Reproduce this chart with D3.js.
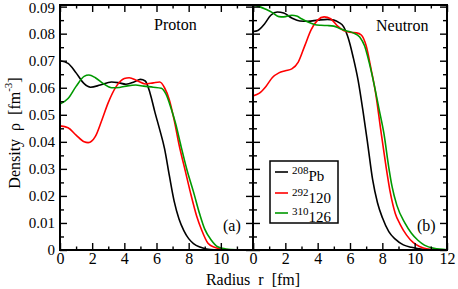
<!DOCTYPE html>
<html><head><meta charset="utf-8">
<script src="https://cdn.jsdelivr.net/npm/d3@7"></script>
<style>
html,body{margin:0;padding:0;background:#fff;}
svg{display:block;font-family:"Liberation Serif","Times New Roman",serif;}
</style></head>
<body>
<svg id="c" width="458" height="289"></svg>
<script>
// ---- data (r in fm, density in fm^-3) ----
const seriesNames = ["208Pb", "292120", "310126"];
const seriesColors = ["#000000", "#ff0000", "#009900"];
const legendSup = ["208", "292", "310"];
const legendMain = ["Pb", "120", "126"];

const protonPb = [[0,0.0700],[0.5,0.0690],[1,0.0655],[1.5,0.0615],[1.9,0.0602],[2.5,0.0610],[3.2,0.0621],[3.6,0.0619],[4.1,0.0613],[4.6,0.0621],[5.0,0.0631],[5.3,0.0625],[5.6,0.0580],[5.9,0.0510],[6.2,0.0445],[6.5,0.0375],[6.8,0.0275],[7.1,0.0180],[7.4,0.0115],[7.7,0.0072],[8.0,0.0042],[8.3,0.0024],[8.7,0.0011],[9.1,0.0004],[9.6,0.0001],[12,0]];
const proton120 = [[0,0.0459],[0.5,0.0452],[1,0.0425],[1.5,0.0400],[1.75,0.0397],[2.2,0.0420],[2.6,0.0480],[3.0,0.0545],[3.5,0.0605],[4.0,0.0634],[4.3,0.0637],[4.8,0.0626],[5.3,0.0614],[5.8,0.0618],[6.2,0.0621],[6.5,0.0600],[6.8,0.0555],[7.1,0.0480],[7.4,0.0390],[7.8,0.0290],[8.1,0.0215],[8.5,0.0125],[8.8,0.0075],[9.2,0.0025],[9.6,0.0010],[10,0.0004],[10.5,0.0001],[12,0]];
const proton126 = [[0,0.0540],[0.5,0.0560],[1,0.0605],[1.5,0.0642],[1.8,0.0647],[2.2,0.0637],[2.7,0.0615],[3.2,0.0600],[3.7,0.0601],[4.2,0.0607],[4.7,0.0610],[5.2,0.0606],[5.8,0.0602],[6.3,0.0598],[6.6,0.0575],[6.9,0.0525],[7.2,0.0465],[7.5,0.0390],[7.9,0.0295],[8.3,0.0215],[8.7,0.0130],[9.0,0.0077],[9.4,0.0037],[9.8,0.0012],[10.3,0.0004],[11,0.0001],[12,0]];

const neutronPb = [[0,0.0808],[0.3,0.0812],[0.7,0.0835],[1.1,0.0868],[1.5,0.0880],[1.9,0.0876],[2.4,0.0858],[2.9,0.0847],[3.4,0.0846],[4.0,0.0850],[4.6,0.0853],[5.0,0.0850],[5.3,0.0842],[5.6,0.0826],[5.9,0.0782],[6.2,0.0712],[6.5,0.0628],[6.8,0.0515],[7.1,0.0390],[7.4,0.0260],[7.7,0.0175],[8.0,0.0120],[8.4,0.0068],[8.8,0.0040],[9.3,0.0019],[9.8,0.0010],[10.5,0.0003],[12,0]];
const neutron120 = [[0,0.0570],[0.4,0.0580],[0.8,0.0605],[1.2,0.0638],[1.6,0.0655],[2.0,0.0663],[2.4,0.0670],[2.8,0.0695],[3.2,0.0755],[3.6,0.0815],[4.0,0.0850],[4.4,0.0862],[4.8,0.0855],[5.2,0.0830],[5.6,0.0812],[6.0,0.0805],[6.4,0.0803],[6.7,0.0795],[7.0,0.0755],[7.3,0.0670],[7.6,0.0575],[7.9,0.0445],[8.2,0.0320],[8.5,0.0210],[8.8,0.0135],[9.1,0.0095],[9.5,0.0055],[9.9,0.0028],[10.3,0.0013],[10.8,0.0004],[11.5,0.0001],[12,0]];
const neutron126 = [[0,0.0905],[0.4,0.0900],[0.8,0.0890],[1.2,0.0878],[1.6,0.0863],[1.9,0.0862],[2.4,0.0868],[2.7,0.0865],[3.0,0.0855],[3.4,0.0843],[3.8,0.0834],[4.2,0.0831],[4.6,0.0830],[5.0,0.0828],[5.4,0.0818],[5.8,0.0810],[6.2,0.0803],[6.6,0.0788],[6.9,0.0755],[7.2,0.0690],[7.5,0.0610],[7.8,0.0520],[8.1,0.0430],[8.4,0.0305],[8.6,0.0235],[8.9,0.0165],[9.4,0.0099],[9.8,0.0062],[10.2,0.0036],[10.6,0.0018],[11.2,0.0006],[12,0.0001]];

const xMajor = [0,2,4,6,8,10,12];
const xMinor = [1,3,5,7,9,11];
const yMajor = [0,0.01,0.02,0.03,0.04,0.05,0.06,0.07,0.08,0.09];
const yMinor = [0.005,0.015,0.025,0.035,0.045,0.055,0.065,0.075,0.085];

const panels = [
  {name:"Proton", tag:"(a)", data:[protonPb, proton120, proton126], x0:60, x1:253, nameX:154, nameY:30, tagX:223},
  {name:"Neutron", tag:"(b)", data:[neutronPb, neutron120, neutron126], x0:253, x1:447, nameX:376, nameY:31, tagX:417}
];

const FONT = "Liberation Serif";
const svg = d3.select("#c");
const plotTop = 5, plotBottom = 250;
const y = d3.scaleLinear().domain([0,0.0906]).range([plotBottom, plotTop]);
const fmtY = d => d === 0 ? "0" : d3.format(".2f")(d);

panels.forEach((p, pi) => {
  const x = d3.scaleLinear().domain([0,12]).range([p.x0, p.x1]);
  const clipId = "clip" + pi;
  svg.append("clipPath").attr("id", clipId).append("rect")
    .attr("x", p.x0).attr("y", plotTop).attr("width", p.x1 - p.x0).attr("height", plotBottom - plotTop);

  const g = svg.append("g");
  const line = d3.line().x(d => x(d[0])).y(d => y(d[1])).curve(d3.curveMonotoneX);
  p.data.forEach((s, i) => {
    g.append("path").datum(s).attr("d", line).attr("fill","none")
      .attr("stroke", seriesColors[i]).attr("stroke-width", 1.6)
      .attr("clip-path", `url(#${clipId})`);
  });

  const mk = (axis, fs) => {
    const a = g.append("g").call(axis);
    a.select(".domain").remove();
    a.attr("font-family", FONT);
    a.selectAll("line").attr("stroke","#000").attr("stroke-width",1.4);
    a.selectAll("text").attr("font-family", FONT).attr("font-size", fs || 16).attr("fill","#000");
    return a;
  };
  // bottom
  mk(d3.axisBottom(x).tickValues(xMajor).tickSize(-7).tickPadding(3)
      .tickFormat(d => (pi === 0 && d === 12) ? "" : d3.format("d")(d)))
    .attr("transform", `translate(0,${plotBottom})`);
  mk(d3.axisBottom(x).tickValues(xMinor).tickSize(-3.5).tickFormat(""))
    .attr("transform", `translate(0,${plotBottom})`);
  // top
  mk(d3.axisTop(x).tickValues(xMajor).tickSize(-7).tickFormat("")).attr("transform", `translate(0,${plotTop})`);
  mk(d3.axisTop(x).tickValues(xMinor).tickSize(-3.5).tickFormat("")).attr("transform", `translate(0,${plotTop})`);
  // left
  const la = mk(d3.axisLeft(y).tickValues(yMajor).tickSize(-7).tickPadding(5).tickFormat(pi === 0 ? fmtY : ""), 15);
  la.attr("transform", `translate(${p.x0},0)`);
  la.selectAll("text").filter(d => d === 0.09).attr("dy", "0.42em");
  mk(d3.axisLeft(y).tickValues(yMinor).tickSize(-4).tickFormat("")).attr("transform", `translate(${p.x0},0)`);
  // right
  mk(d3.axisRight(y).tickValues(yMajor).tickSize(-7).tickFormat("")).attr("transform", `translate(${p.x1},0)`);
  mk(d3.axisRight(y).tickValues(yMinor).tickSize(-4).tickFormat("")).attr("transform", `translate(${p.x1},0)`);

  g.append("rect").attr("x", p.x0).attr("y", plotTop).attr("width", p.x1 - p.x0).attr("height", plotBottom - plotTop)
    .attr("fill","none").attr("stroke","#000").attr("stroke-width",2);

  g.append("text").attr("x", p.nameX).attr("y", p.nameY).attr("font-family", FONT).attr("font-size",16).text(p.name);
  g.append("text").attr("x", p.tagX).attr("y", 231).attr("font-family", FONT).attr("font-size",16).text(p.tag);
});

// axis titles
svg.append("text").attr("x", 253).attr("y", 285).attr("text-anchor","middle").attr("font-family", FONT).attr("font-size",16)
  .style("white-space","pre").text("Radius  r  [fm]");

const yt = svg.append("text").attr("transform","translate(20,133) rotate(-90)").attr("text-anchor","middle")
  .attr("font-family", FONT).attr("font-size",16).style("white-space","pre");
yt.append("tspan").text("Density  ρ  [fm");
yt.append("tspan").attr("dy",-8).attr("font-size",11).text("-3");
yt.append("tspan").attr("dy",8).text("]");

// legend
const lg = svg.append("g");
lg.append("rect").attr("x",270).attr("y",161).attr("width",68).attr("height",62)
  .attr("fill","#fff").attr("stroke","#000").attr("stroke-width",1.5);
const rowY = [172, 193, 213];
const baseY = [181, 203, 222];
seriesNames.forEach((n, i) => {
  lg.append("line").attr("x1",275).attr("x2",288).attr("y1",rowY[i]).attr("y2",rowY[i])
    .attr("stroke", seriesColors[i]).attr("stroke-width",1.6);
  const t = lg.append("text").attr("x",292).attr("y",baseY[i]).attr("font-family", FONT).attr("font-size",15);
  t.append("tspan").attr("font-size",11).attr("dy",-7).text(legendSup[i]);
  t.append("tspan").attr("dy",7).text(legendMain[i]);
});
</script>
</body></html>
